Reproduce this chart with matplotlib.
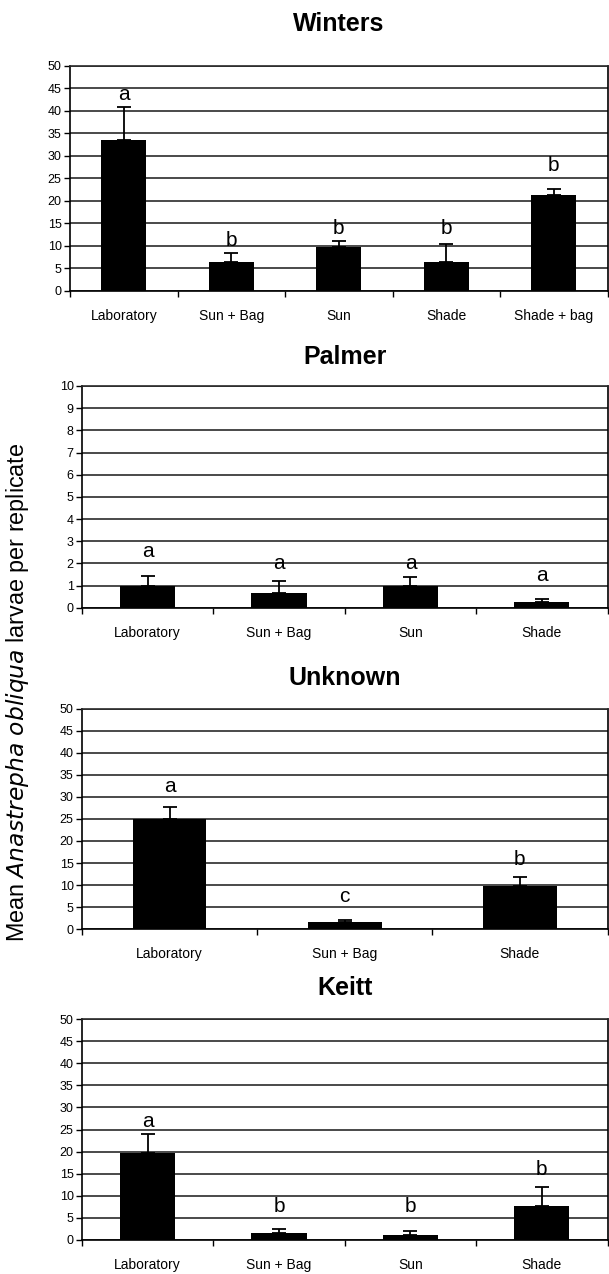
import matplotlib
matplotlib.use("Agg")
import matplotlib.pyplot as plt

plt.rcParams['font.family'] = ['Liberation Sans', 'DejaVu Sans']

W, H = 609, 1274

# Winters
winters_cats = ["Laboratory", "Sun + Bag", "Sun", "Shade", "Shade + bag"]
winters_mean = [33.6, 6.4, 9.8, 6.4, 21.3]
winters_err = [7.3, 2.0, 1.3, 4.0, 1.4]
winters_letters = ["a", "b", "b", "b", "b"]
winters_letter_y = [43.7, 11.2, 13.9, 13.9, 27.9]

# Palmer
palmer_cats = ["Laboratory", "Sun + Bag", "Sun", "Shade"]
palmer_mean = [0.98, 0.65, 0.98, 0.26]
palmer_err = [0.46, 0.57, 0.39, 0.15]
palmer_letters = ["a", "a", "a", "a"]
palmer_letter_y = [2.53, 2.0, 2.0, 1.43]

# Unknown
unknown_cats = ["Laboratory", "Sun + Bag", "Shade"]
unknown_mean = [24.9, 1.7, 9.8]
unknown_err = [2.9, 0.3, 1.95]
unknown_letters = ["a", "c", "b"]
unknown_letter_y = [32.4, 7.3, 15.8]

# Keitt
keitt_cats = ["Laboratory", "Sun + Bag", "Sun", "Shade"]
keitt_mean = [19.75, 1.5, 1.1, 7.8]
keitt_err = [4.25, 0.9, 0.9, 4.3]
keitt_letters = ["a", "b", "b", "b"]
keitt_letter_y = [26.8, 7.5, 7.5, 16.0]

# panel boxes in pixels: left, right, top, bottom, ymax, step, title y
panels = [
    ("Winters", winters_cats, winters_mean, winters_err, winters_letters, winters_letter_y,
     (70, 607.5, 65.7, 290.7), 50, 5, 24),
    ("Palmer", palmer_cats, palmer_mean, palmer_err, palmer_letters, palmer_letter_y,
     (82, 607.5, 386, 607.7), 10, 1, 357),
    ("Unknown", unknown_cats, unknown_mean, unknown_err, unknown_letters, unknown_letter_y,
     (82, 607.5, 709, 929), 50, 5, 678),
    ("Keitt", keitt_cats, keitt_mean, keitt_err, keitt_letters, keitt_letter_y,
     (82, 607.5, 1019, 1240), 50, 5, 988),
]

fig = plt.figure(figsize=(W / 100, H / 100), dpi=100)

for title, cats, mean, err, letters, letter_y, box, ymax, step, ty in panels:
    l, r, t, b = box
    ax = fig.add_axes([l / W, 1 - b / H, (r - l) / W, (b - t) / H])
    n = len(cats)
    xs = list(range(n))
    ax.bar(xs, mean, width=0.42, color="black", zorder=3)
    ax.errorbar(xs, mean, yerr=[[0] * n, err], fmt="none", ecolor="black",
                elinewidth=1.3, capsize=5, capthick=1.3, zorder=4)
    for x, lab, y in zip(xs, letters, letter_y):
        ax.text(x, y, lab, ha="center", va="center", fontsize=15, zorder=5)

    ax.set_xlim(-0.5, n - 0.5)
    ax.set_ylim(0, ymax)
    ax.set_yticks(range(0, ymax + 1, step))
    ax.yaxis.grid(True, color="#2a2a2a", linewidth=1.2, zorder=1)
    ax.set_axisbelow(True)
    ax.tick_params(axis="y", direction="out", length=4, width=1, labelsize=9, pad=2)

    # category labels centered, ticks at category boundaries
    ax.set_xticks(xs)
    ax.set_xticklabels(cats, fontsize=10)
    ax.tick_params(axis="x", length=0, pad=13)
    ax.set_xticks([i - 0.5 for i in range(n + 1)], minor=True)
    ax.tick_params(axis="x", which="minor", direction="out", length=4, width=1)

    for side in ["left", "bottom", "right"]:
        ax.spines[side].set_color("black")
        ax.spines[side].set_linewidth(1.2)
    ax.spines["top"].set_color("#2a2a2a")
    ax.spines["top"].set_linewidth(1.2)

    fig.text((l + r) / 2 / W, 1 - ty / H, title, ha="center", va="center",
             fontsize=18, fontweight="bold")

fig.text(18 / W, 1 - 692 / H, "Mean $\\it{Anastrepha\\ obliqua}$ larvae per replicate",
         rotation=90, ha="center", va="center", fontsize=16.8)

fig.savefig("out.png", dpi=100)
